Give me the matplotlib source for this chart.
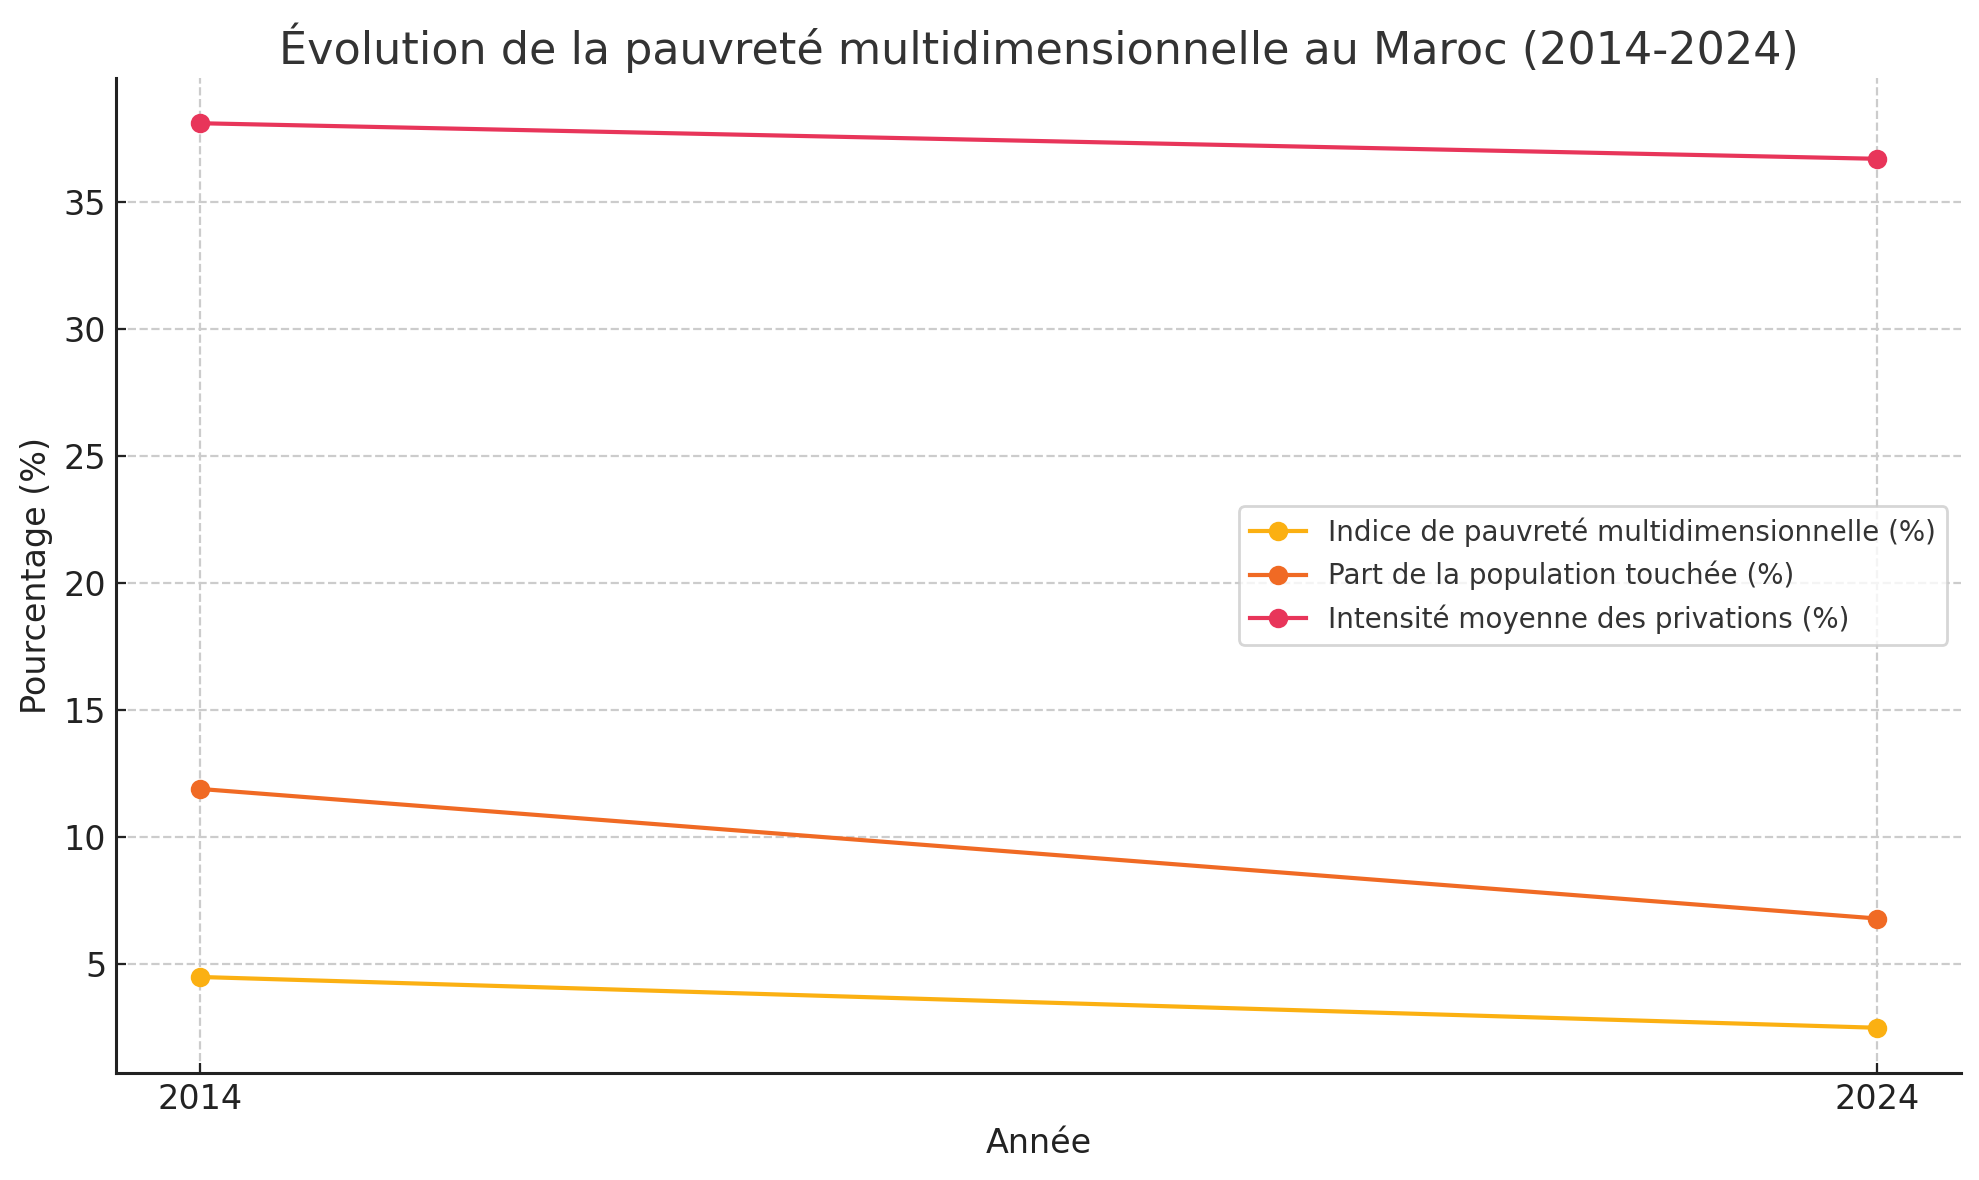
import matplotlib
matplotlib.use("Agg")
import matplotlib.pyplot as plt

years = [2014, 2024]
indice_mpi = [4.5, 2.5]
part_population = [11.9, 6.8]
intensite = [38.1, 36.7]

labels = [
    "Indice de pauvreté multidimensionnelle (%)",
    "Part de la population touchée (%)",
    "Intensité moyenne des privations (%)",
]
colors = ["#FBB012", "#F06A24", "#E8355A"]

plt.rcParams['font.family'] = ['DejaVu Sans']
fig = plt.figure(figsize=(1979 / 200, 1180 / 200), dpi=200)
ax = fig.add_axes([116 / 1979, 1 - 1073 / 1180, (1961 - 116) / 1979, (1073 - 78) / 1180])

for series, lab, col in zip([indice_mpi, part_population, intensite], labels, colors):
    ax.plot(years, series, marker="o", color=col, label=lab, linewidth=1.5, markersize=6)

ax.set_xticks(years)
ax.set_xticklabels([str(y) for y in years])
ax.set_title("Évolution de la pauvreté multidimensionnelle au Maroc (2014-2024)",
             fontsize=16, color="#333333", pad=5)
ax.set_xlabel("Année", fontsize=12, color="#222222")
ax.set_ylabel("Pourcentage (%)", fontsize=12, color="#222222")
ax.tick_params(labelsize=12, colors="#222222", direction="in")
ax.grid(True, linestyle="--", color="#cccccc", linewidth=0.8)
ax.spines["top"].set_visible(False)
ax.spines["right"].set_visible(False)
for s in ("left", "bottom"):
    ax.spines[s].set_color("#222222")
    ax.spines[s].set_linewidth(1.1)

leg = ax.legend(loc="center right", fontsize=10)
for t in leg.get_texts():
    t.set_color("#333333")

fig.savefig("out.png", dpi=200)
